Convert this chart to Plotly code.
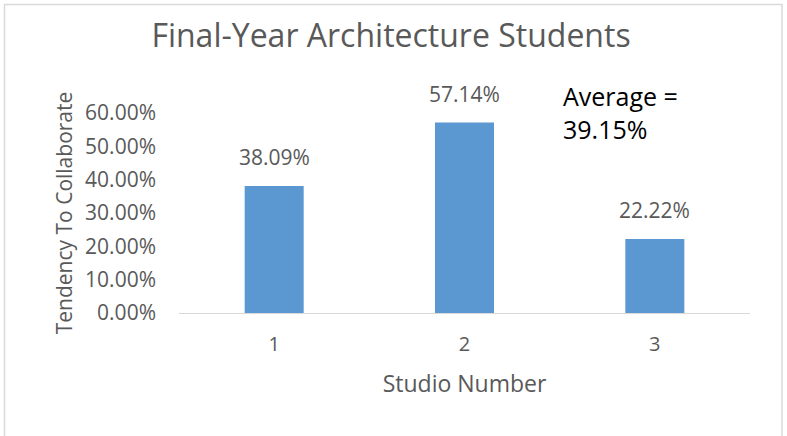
import plotly.graph_objects as go

categories = ["1", "2", "3"]
values = [0.3809, 0.5714, 0.2222]
labels = ["38.09%", "57.14%", "22.22%"]
y_ticks = [0, 0.1, 0.2, 0.3, 0.4, 0.5, 0.6]
y_tick_labels = ["0.00%", "10.00%", "20.00%", "30.00%", "40.00%", "50.00%", "60.00%"]
average_text = "Average =<br>39.15%"

W, H = 787, 436
L, R, T, B = 179, 37, 113, 123
pw, ph = W - L - R, H - T - B

def px_x(x):
    return (x - L) / pw

def px_y(y):
    return (H - B - y) / ph

font = "Open Sans"
gray = "#595959"

fig = go.Figure(go.Bar(
    x=categories, y=values,
    marker=dict(color="#5B98D2", line=dict(width=0)),
    width=0.31,
))

label_annotations = [
    dict(x=i, y=v, text=t, xref="x", yref="y", showarrow=False,
         yanchor="bottom", yshift=13,
         font=dict(family=font, size=21, color=gray))
    for i, (v, t) in enumerate(zip(values, labels))
]

fig.update_layout(
    width=W, height=H,
    margin=dict(l=L, r=R, t=T, b=B),
    paper_bgcolor="white", plot_bgcolor="white",
    showlegend=False,
    title=dict(text="Final-Year Architecture Students", x=391 / W, xanchor="center", xref="container",
               y=1 - 36 / H, yanchor="middle",
               font=dict(family=font, size=32, color=gray)),
    xaxis=dict(type="category", showgrid=False, showline=True, linecolor="#D9D9D9", linewidth=1,
               ticks="", ticklabelstandoff=13,
               tickfont=dict(family=font, size=20, color=gray),
               title=dict(text="Studio Number", font=dict(family=font, size=23, color=gray), standoff=19)),
    yaxis=dict(range=[0, 0.6], showgrid=False, showline=False, zeroline=False,
               tickvals=y_ticks, ticktext=y_tick_labels, ticks="", ticklabelstandoff=22,
               tickfont=dict(family=font, size=21, color=gray),
               title=dict(text="Tendency To Collaborate", font=dict(family=font, size=21, color=gray), standoff=6)),
    annotations=label_annotations + [dict(text=average_text, xref="paper", yref="paper",
                      x=px_x(561), y=px_y(77), xanchor="left", yanchor="top",
                      showarrow=False, align="left",
                      font=dict(family=font, size=25, color="black"))],
    shapes=[dict(type="rect", xref="paper", yref="paper",
                 x0=px_x(4.5), x1=px_x(782), y0=px_y(4.5), y1=px_y(440),
                 line=dict(color="#D9D9D9", width=1.5), fillcolor="rgba(0,0,0,0)", layer="below")],
)

fig.write_html("out.html")
